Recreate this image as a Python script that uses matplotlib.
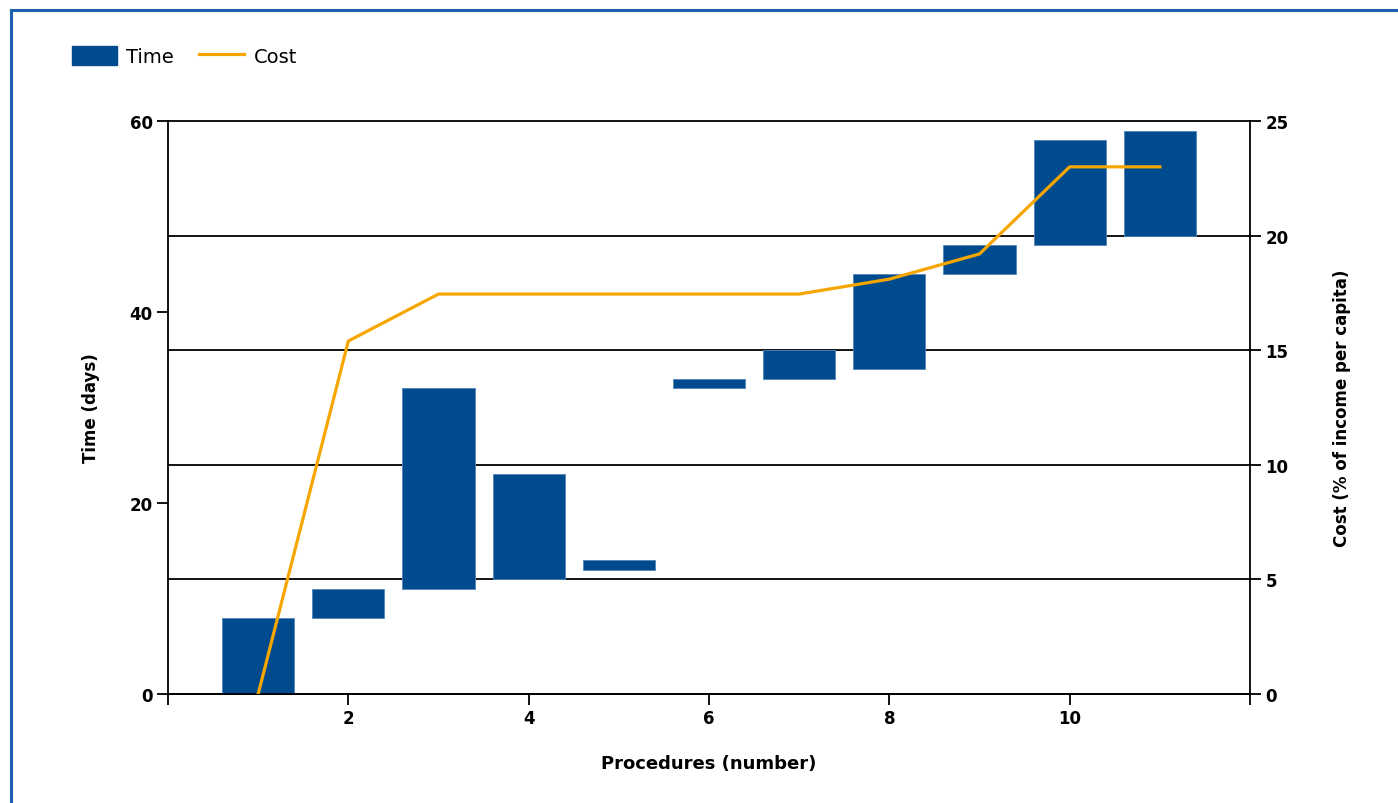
import numpy as np
import matplotlib
matplotlib.use("Agg")
import matplotlib.pyplot as plt
from matplotlib.lines import Line2D
from matplotlib.patches import Patch

# time per procedure: each bar floats from start day to end day
procedures = [1, 2, 3, 4, 5, 6, 7, 8, 9, 10, 11]
start_day = [0, 8, 11, 12, 13, 32, 33, 34, 44, 47, 48]
end_day = [8, 11, 32, 23, 14, 33, 36, 44, 47, 58, 59]
# cumulative cost, % of income per capita
cost = [0, 15.4, 17.45, 17.45, 17.45, 17.45, 17.45, 18.1, 19.2, 23.0, 23.0]

bar_blue = "#004B8D"
line_orange = "#F7A600"

fig = plt.figure(figsize=(13.98, 8.04), dpi=100)
ax = fig.add_axes([168 / 1398, 1 - 695 / 804, (1250 - 168) / 1398, (695 - 122) / 804])
ax2 = ax.twinx()

heights = np.array(end_day) - np.array(start_day)
ax.bar(procedures, heights, bottom=start_day, width=0.8, color=bar_blue,
       edgecolor="#4F86BC", linewidth=0.6, zorder=3)
ax2.plot(procedures, cost, color=line_orange, lw=2.3, zorder=4)

ax.set_xlim(0, 12)
ax.set_ylim(0, 60)
ax2.set_ylim(0, 25)
ax.set_xticks(range(0, 13, 2))
ax.set_xticklabels(["", "2", "4", "6", "8", "10", ""])
ax.set_yticks([0, 20, 40, 60])
ax2.set_yticks([0, 5, 10, 15, 20, 25])

# horizontal rules sit at the cost ticks (every 12 days), behind the bars
ax.set_yticks([12, 24, 36, 48], minor=True)
ax.tick_params(axis="y", which="minor", length=0)
ax.grid(axis="y", which="minor", color="black", lw=1.3, zorder=0)
ax.set_axisbelow(True)

for a in (ax, ax2):
    for s in ("left", "right", "bottom", "top"):
        a.spines[s].set_linewidth(1.3)
    a.tick_params(which="major", length=8, width=1.3, direction="out", pad=3)
    for lab in a.get_xticklabels() + a.get_yticklabels():
        lab.set_fontweight("bold")
        lab.set_fontsize(12)
ax.spines["top"].set_visible(False)
ax2.spines["left"].set_visible(False)
ax.spines["right"].set_visible(False)

ax.set_xlabel("Procedures (number)", fontsize=13, fontweight="bold", labelpad=19)
ax.set_ylabel("Time (days)", fontsize=12, fontweight="bold", labelpad=21)
ax2.set_ylabel("Cost (% of income per capita)", fontsize=12, fontweight="bold", labelpad=32)

handles = [Patch(facecolor=bar_blue, edgecolor=bar_blue),
           Line2D([0], [0], color=line_orange, lw=2.3)]
fig.legend(handles, ["Time", "Cost"], loc="center left", bbox_to_anchor=(0.039, 0.929),
           ncol=2, frameon=False, fontsize=14, handlelength=2.3, handleheight=1.1,
           columnspacing=1.3, handletextpad=0.5)

# window frame along the top and left edges
fig.add_artist(Line2D([11 / 1398, 1], [1 - 11 / 804, 1 - 11 / 804], color="#1F5FAF", lw=2.2))
fig.add_artist(Line2D([11 / 1398, 11 / 1398], [0, 1 - 11 / 804], color="#1F5FAF", lw=2.2))

fig.savefig("out.png", dpi=100)
